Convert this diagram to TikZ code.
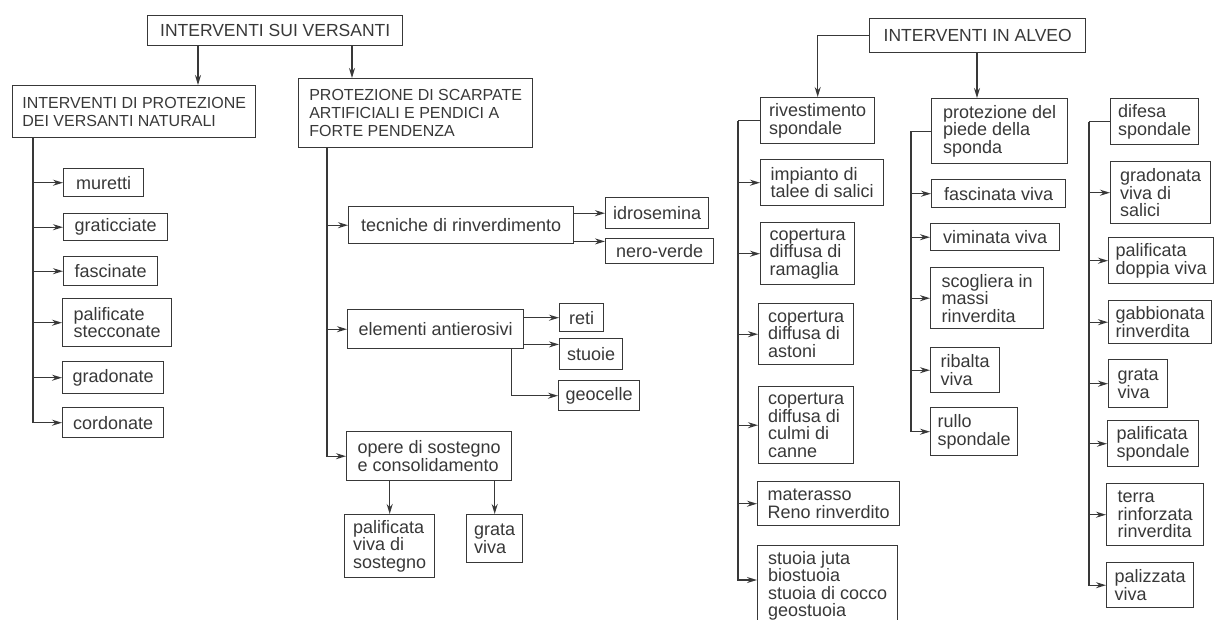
\documentclass[tikz,border=0pt]{standalone}
\usepackage{fontspec}
\setmainfont{Liberation Sans}
\usetikzlibrary{arrows.meta}
\definecolor{ink}{gray}{0.22}

\begin{document}
\begin{tikzpicture}[x=1pt,y=-1pt,line width=1.4pt,color=ink,
    >={Stealth[length=10pt,width=6pt]},
    box/.style={draw,anchor=north west,align=left,inner sep=0pt,
      font=\fontsize{18}{17.5}\selectfont},
    capbox/.style={box,font=\fontsize{16}{18}\selectfont},
    headbox/.style={box,font=\fontsize{17.5}{18}\selectfont}]
    \useasboundingbox (0,0) rectangle (1219,619);
    \clip (0,0) rectangle (1219,619);

    %%% NODI: interventi sui versanti %%%
    \node[headbox,minimum width=255,minimum height=30] (sui) at (147,15) {INTERVENTI SUI VERSANTI};
    \node[capbox,minimum width=243,minimum height=52] (nat) at (12,85) {INTERVENTI DI PROTEZIONE\\DEI VERSANTI NATURALI};
    \node[capbox,minimum width=234,minimum height=69] (scarp) at (298,78) {PROTEZIONE DI SCARPATE\\ARTIFICIALI E PENDICI A\\FORTE PENDENZA};

    % versanti naturali
    \node[box,minimum width=80,minimum height=28] (muretti) at (63,168) {muretti};
    \node[box,minimum width=104,minimum height=27] (graticciate) at (63,213) {graticciate};
    \node[box,minimum width=94,minimum height=29] (fascinate) at (63,256) {fascinate};
    \node[box,minimum width=109,minimum height=48] (palstec) at (62,298) {palificate\\stecconate};
    \node[box,minimum width=101,minimum height=32] (gradonate) at (62,361) {gradonate};
    \node[box,minimum width=101,minimum height=30] (cordonate) at (62,407) {cordonate};

    % scarpate e pendici
    \node[box,minimum width=225,minimum height=37] (tecniche) at (348,206) {tecniche di rinverdimento};
    \node[box,minimum width=103,minimum height=31] (idro) at (605,197) {idrosemina};
    \node[box,minimum width=108,minimum height=25] (nero) at (605,238) {nero-verde};
    \node[box,minimum width=176,minimum height=39] (elementi) at (347,309) {elementi antierosivi};
    \node[box,minimum width=44,minimum height=28] (reti) at (559,303) {reti};
    \node[box,minimum width=63,minimum height=31] (stuoie) at (559,338) {stuoie};
    \node[box,minimum width=81,minimum height=30] (geocelle) at (558,380) {geocelle};
    \node[box,minimum width=165,minimum height=49] (opere) at (346,431) {opere di sostegno\\e consolidamento};
    \node[box,minimum width=90,minimum height=63] (pvs) at (344,514) {palificata\\viva di\\sostegno};
    \node[box,minimum width=56,minimum height=48] (gratas) at (466,514) {grata\\viva};

    %%% NODI: interventi in alveo %%%
    \node[headbox,minimum width=216,minimum height=34] (alveo) at (869,18) {INTERVENTI IN ALVEO};

    % rivestimento spondale
    \node[box,minimum width=114,minimum height=46] (rivest) at (760,97) {rivestimento\\spondale};
    \node[box,minimum width=123,minimum height=46] (impianto) at (760,159) {impianto di\\talee di salici};
    \node[box,minimum width=94,minimum height=62] (ramaglia) at (760,222) {copertura\\diffusa di\\ramaglia};
    \node[box,minimum width=95,minimum height=61] (astoni) at (758,303) {copertura\\diffusa di\\astoni};
    \node[box,minimum width=95,minimum height=77] (culmi) at (758,386) {copertura\\diffusa di\\culmi di\\canne};
    \node[box,minimum width=142,minimum height=44] (materasso) at (757,481) {materasso\\Reno rinverdito};
    \node[box,minimum width=140,minimum height=80] (stuoia) at (757,545) {stuoia juta\\biostuoia\\stuoia di cocco\\geostuoia};

    % protezione del piede
    \node[box,minimum width=136,minimum height=65] (piede) at (931,98) {protezione del\\piede della\\sponda};
    \node[box,minimum width=134,minimum height=28] (fascinata) at (931,179) {fascinata viva};
    \node[box,minimum width=129,minimum height=27] (viminata) at (930,223) {viminata viva};
    \node[box,minimum width=113,minimum height=61] (scogliera) at (930,267) {scogliera in\\massi\\rinverdita};
    \node[box,minimum width=69,minimum height=45] (ribalta) at (930,347) {ribalta\\viva};
    \node[box,minimum width=87,minimum height=48] (rullo) at (930,407) {rullo\\spondale};

    % difesa spondale
    \node[box,minimum width=88,minimum height=46] (difesa) at (1110,98) {difesa\\spondale};
    \node[box,minimum width=100,minimum height=62] (gradonata) at (1110,161) {gradonata\\viva di\\salici};
    \node[box,minimum width=105,minimum height=46] (doppia) at (1108,237) {palificata\\doppia viva};
    \node[box,minimum width=103,minimum height=43] (gabbionata) at (1108,300) {gabbionata\\rinverdita};
    \node[box,minimum width=59,minimum height=48] (gratad) at (1108,359) {grata\\viva};
    \node[box,minimum width=91,minimum height=46] (palsp) at (1107,420) {palificata\\spondale};
    \node[box,minimum width=97,minimum height=62] (terra) at (1106,483) {terra\\rinforzata\\rinverdita};
    \node[box,minimum width=87,minimum height=45] (palizzata) at (1106,562) {palizzata\\viva};

    %%% COLLEGAMENTI %%%
    % versanti
    \coordinate (a1) at ([xshift=51pt]sui.south west);
    \coordinate (a2) at ([xshift=205pt]sui.south west);
    \draw[->] (a1) -- (a1 |- nat.north);
    \draw[->] (a2) -- (a2 |- scarp.north);

    \coordinate (tnat) at ([xshift=21pt]nat.south west);
    \foreach \n in {muretti,graticciate,fascinate,palstec,gradonate,cordonate}
        \draw[->] (tnat) |- (\n.west);

    \coordinate (tscarp) at ([xshift=29pt]scarp.south west);
    \foreach \n in {tecniche,elementi,opere}
        \draw[->] (tscarp) |- (\n.west);

    \coordinate (tn) at ([yshift=3pt]tecniche.south east);
    \draw[->] (tecniche.east |- idro.west) -- (idro.west);
    \draw[->] (tn) -- (tn -| nero.west);

    \coordinate (te) at ([yshift=5pt]elementi.south east);
    \draw[->] (elementi.east |- reti.west) -- (reti.west);
    \draw[->] (te) -- (te -| stuoie.west);
    \draw[->] ([xshift=-13pt]elementi.south east) |- (geocelle.west);

    \draw[->] (opere.south -| pvs.north) -- (pvs.north);
    \draw[->] (opere.south -| gratas.north) -- (gratas.north);

    % alveo
    \coordinate (a3) at ([xshift=108pt]alveo.south west);
    \draw[->] (alveo.west) -| (rivest.north);
    \draw[->] (a3) -- (a3 |- piede.north);

    \coordinate (tA) at ([xshift=-22pt]rivest.west);
    \draw (rivest.west) -- (tA);
    \foreach \n in {impianto,ramaglia,astoni,culmi,materasso}
        \draw[->] (tA) |- (\n.west);
    \draw[->] (tA) |- ([yshift=-35pt]stuoia.north west);

    \coordinate (tB) at ([xshift=-20pt]piede.west);
    \draw (piede.west) -- (tB);
    \foreach \n in {fascinata,viminata,scogliera,ribalta,rullo}
        \draw[->] (tB) |- (\n.west);

    \coordinate (tC) at ([xshift=-21pt]difesa.west);
    \draw (difesa.west) -- (tC);
    \foreach \n in {gradonata,doppia,gabbionata,gratad,palsp,terra,palizzata}
        \draw[->] (tC) |- (\n.west);
\end{tikzpicture}
\end{document}
